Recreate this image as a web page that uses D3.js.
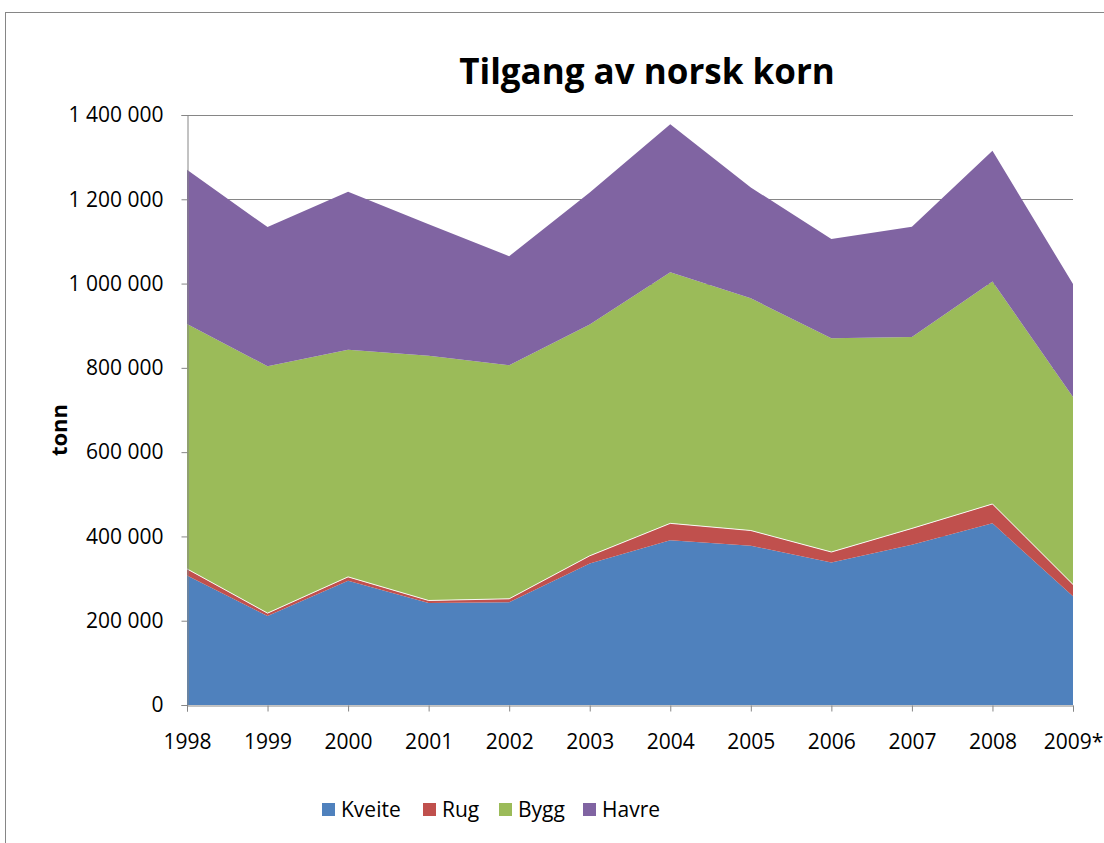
<!DOCTYPE html>
<html>
<head>
<meta charset="utf-8">
<script src="https://cdn.jsdelivr.net/npm/d3@7"></script>
<style>
  body { margin: 0; background: #fff; }
  svg { font-family: "Open Sans", "Noto Sans", sans-serif; }
</style>
</head>
<body>
<div id="chart"></div>
<script>
const years = ["1998", "1999", "2000", "2001", "2002", "2003", "2004", "2005", "2006", "2007", "2008", "2009*"]
const series = ["Kveite", "Rug", "Bygg", "Havre"]
// tonn
const kveite = [307000, 211000, 295000, 242000, 244000, 336000, 391000, 378000, 338000, 380000, 431000, 258000]
const rug = [16000, 7000, 9000, 6000, 8000, 18000, 40000, 36000, 25000, 39000, 46000, 28000]
const bygg = [581000, 586000, 539000, 581000, 554000, 549000, 596000, 551000, 507000, 454000, 528000, 445000]
const havre = [366000, 330000, 375000, 312000, 259000, 313000, 351000, 263000, 236000, 262000, 310000, 268000]
const yTicks = [0, 200000, 400000, 600000, 800000, 1000000, 1200000, 1400000]
const colors = ["#4F81BD", "#C0504D", "#9BBB59", "#8064A2"]

const width = 1104
const height = 843
const margin = { top: 115, right: 31, bottom: 138, left: 187 }

const table = years.map((y, i) => ({
    year: y, Kveite: kveite[i], Rug: rug[i], Bygg: bygg[i], Havre: havre[i]
}))

const svg = d3.select("#chart")
    .append("svg")
    .attr("width", width)
    .attr("height", height)

// outer frame
svg.append("rect")
    .attr("x", 5.5).attr("y", 12.5)
    .attr("width", width + 10).attr("height", height + 10)
    .attr("fill", "none")
    .attr("stroke", "#868686")

const x = d3.scalePoint()
    .domain(years)
    .range([margin.left, width - margin.right])

const y = d3.scaleLinear()
    .domain([0, 1400000])
    .range([height - margin.bottom, margin.top])

// gridlines
svg.append("g")
    .selectAll("line")
    .data(yTicks.slice(1))
    .enter()
    .append("line")
    .attr("x1", margin.left)
    .attr("x2", width - margin.right)
    .attr("y1", d => Math.round(y(d)) + 0.5)
    .attr("y2", d => Math.round(y(d)) + 0.5)
    .attr("stroke", "#868686")

const stacked = d3.stack().keys(series)(table)

const area = d3.area()
    .x(d => x(d.data.year))
    .y0(d => y(d[0]))
    .y1(d => y(d[1]))

svg.append("g")
    .selectAll("path")
    .data(stacked)
    .enter()
    .append("path")
    .attr("d", area)
    .attr("fill", (d, i) => colors[i])

// thin light edge on top of the Rug layer
const edge = d3.line()
    .x(d => x(d.data.year))
    .y(d => y(d[1]))

svg.append("path")
    .attr("d", edge(stacked[1]))
    .attr("fill", "none")
    .attr("stroke", "#ffffff")
    .attr("stroke-width", 1)
    .attr("stroke-opacity", 0.9)

// axes
const yAxis = svg.append("g")
    .attr("transform", `translate(${margin.left + 0.5},0)`)
    .call(d3.axisLeft(y)
        .tickValues(yTicks)
        .tickSize(6)
        .tickPadding(18)
        .tickFormat(d => d3.format(",")(d).replace(/,/g, " ")))

const xAxis = svg.append("g")
    .attr("transform", `translate(0,${height - margin.bottom + 0.5})`)
    .call(d3.axisBottom(x).tickSize(6).tickPadding(23))

for (const ax of [xAxis, yAxis]) {
    ax.select(".domain").attr("stroke", "#868686")
    ax.selectAll(".tick line").attr("stroke", "#868686")
    ax.selectAll(".tick text")
        .attr("fill", "#000")
        .attr("font-size", 21)
        .attr("font-family", "'Open Sans', sans-serif")
}

// title
svg.append("text")
    .attr("x", 647)
    .attr("y", 84)
    .attr("text-anchor", "middle")
    .attr("font-size", 35)
    .attr("font-weight", "bold")
    .text("Tilgang av norsk korn")

// y label
svg.append("text")
    .attr("transform", "translate(67,430) rotate(-90)")
    .attr("text-anchor", "middle")
    .attr("font-size", 22)
    .attr("font-weight", "bold")
    .text("tonn")

// legend
const legendX = [322, 423, 499, 583]
const legend = svg.append("g")
    .selectAll("g")
    .data(series)
    .enter()
    .append("g")
    .attr("transform", (d, i) => `translate(${legendX[i]},803)`)

legend.append("rect")
    .attr("width", 13)
    .attr("height", 13)
    .attr("fill", (d, i) => colors[i])

legend.append("text")
    .attr("x", 19)
    .attr("y", 14)
    .attr("font-size", 21)
    .text(d => d)
</script>
</body>
</html>
